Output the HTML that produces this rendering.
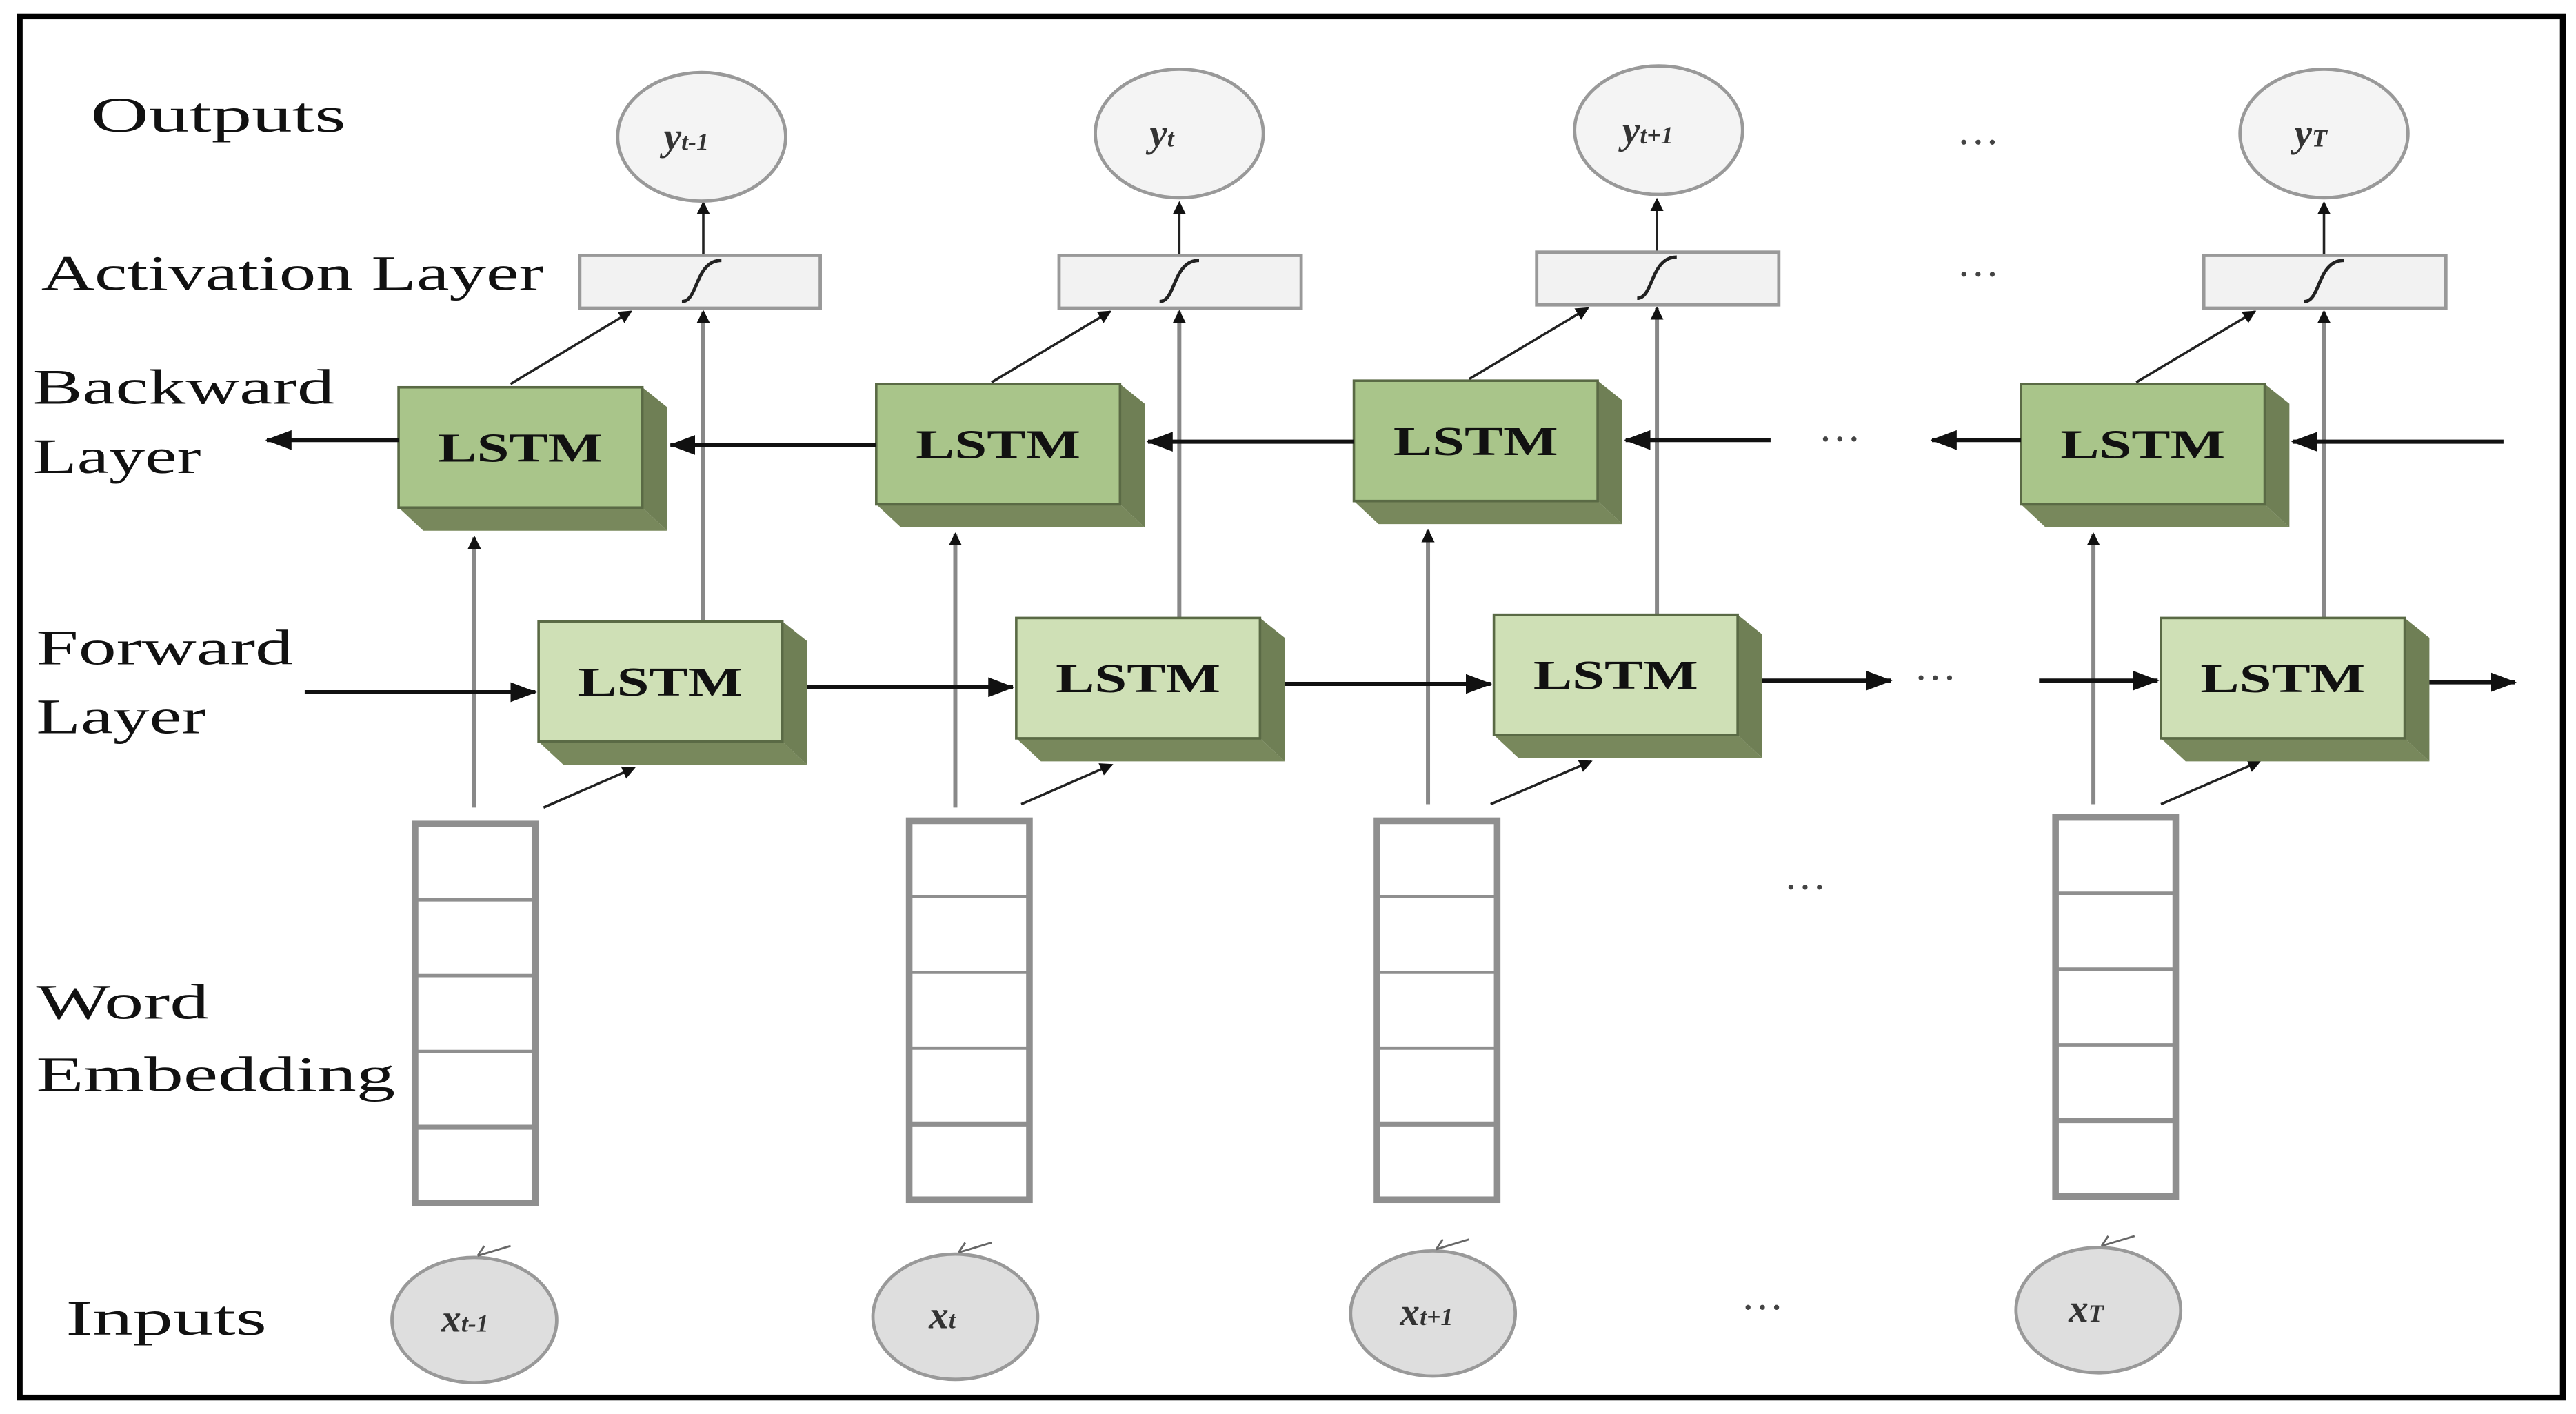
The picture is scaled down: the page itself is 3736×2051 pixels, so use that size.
<!DOCTYPE html>
<html><head><meta charset="utf-8"><style>
html,body{margin:0;padding:0;background:#fff;}
svg{display:block;}
.lbl{font-family:"Liberation Serif",serif;font-size:30px;fill:#111;}
.ls{font-family:"Liberation Serif",serif;font-size:25px;font-weight:bold;fill:#111;}
.it{font-family:"Liberation Serif",serif;font-style:italic;font-weight:bold;fill:#333;}
.dots{font-family:"Liberation Serif",serif;font-size:26px;fill:#444;}
</style></head><body>
<svg width="3736" height="2051" viewBox="0 0 1564 858" preserveAspectRatio="none" xmlns="http://www.w3.org/2000/svg">
<defs>
<marker id="ab" markerWidth="8" markerHeight="8" refX="7" refY="4" orient="auto" markerUnits="userSpaceOnUse" viewBox="0 0 8 8"><path d="M0,0 L8,4 L0,8z" fill="#111"/></marker>
<marker id="abig" markerWidth="16" markerHeight="12" refX="15" refY="6" orient="auto" markerUnits="userSpaceOnUse" viewBox="0 0 16 12"><path d="M0,0 L16,6 L0,12z" fill="#111"/></marker>
<g id="bw">
<polygon points="148,0 163,12 163,87 148,73" fill="#6f7f55"/>
<polygon points="0,73 148,73 163,87 15,87" fill="#78885c"/>
<rect x="0" y="0" width="148" height="73" fill="#a9c58a" stroke="#5a6a45" stroke-width="1.5"/>
<text x="24" y="45" class="ls" textLength="100" lengthAdjust="spacingAndGlyphs">LSTM</text>
</g>
<g id="fw">
<polygon points="148,0 163,12 163,87 148,73" fill="#6f7f55"/>
<polygon points="0,73 148,73 163,87 15,87" fill="#78885c"/>
<rect x="0" y="0" width="148" height="73" fill="#cfe0b6" stroke="#5a6a45" stroke-width="1.5"/>
<text x="24" y="45" class="ls" textLength="100" lengthAdjust="spacingAndGlyphs">LSTM</text>
</g>
<g id="emb" fill="none" stroke="#8f8f8f">
<rect x="0" y="0" width="73" height="230" stroke-width="4" fill="#fff"/>
<line x1="0" y1="46" x2="73" y2="46" stroke-width="2"/>
<line x1="0" y1="92" x2="73" y2="92" stroke-width="2"/>
<line x1="0" y1="138" x2="73" y2="138" stroke-width="2"/>
<line x1="0" y1="184" x2="73" y2="184" stroke-width="3"/>
</g>
</defs>
<rect x="12" y="10" width="1544" height="838" fill="#fff" stroke="#000" stroke-width="3.5"/>

<text x="55" y="80" class="lbl" textLength="155" lengthAdjust="spacingAndGlyphs">Outputs</text>
<text x="25" y="176" class="lbl" textLength="305" lengthAdjust="spacingAndGlyphs">Activation Layer</text>
<text x="20" y="245" class="lbl" textLength="183" lengthAdjust="spacingAndGlyphs">Backward</text>
<text x="20" y="287" class="lbl" textLength="102" lengthAdjust="spacingAndGlyphs">Layer</text>
<text x="22" y="403" class="lbl" textLength="156" lengthAdjust="spacingAndGlyphs">Forward</text>
<text x="22" y="445" class="lbl" textLength="103" lengthAdjust="spacingAndGlyphs">Layer</text>
<text x="22" y="618" class="lbl" textLength="105" lengthAdjust="spacingAndGlyphs">Word</text>
<text x="22" y="662" class="lbl" textLength="218" lengthAdjust="spacingAndGlyphs">Embedding</text>
<text x="40" y="810" class="lbl" textLength="122" lengthAdjust="spacingAndGlyphs">Inputs</text>

<g>
<g stroke="#888" stroke-width="2.5" fill="none">
<line x1="288" y1="490" x2="288" y2="326" marker-end="url(#ab)"/>
<line x1="427" y1="377" x2="427" y2="189" marker-end="url(#ab)"/>
<line x1="580" y1="490" x2="580" y2="324" marker-end="url(#ab)"/>
<line x1="716" y1="375" x2="716" y2="189" marker-end="url(#ab)"/>
<line x1="867" y1="488" x2="867" y2="322" marker-end="url(#ab)"/>
<line x1="1006" y1="373" x2="1006" y2="187" marker-end="url(#ab)"/>
<line x1="1271" y1="488" x2="1271" y2="324" marker-end="url(#ab)"/>
<line x1="1411" y1="375" x2="1411" y2="189" marker-end="url(#ab)"/>
</g>
<g stroke="#222" stroke-width="1.5" fill="none">
<line x1="310" y1="233" x2="383" y2="189" marker-end="url(#ab)"/>
<line x1="602" y1="232" x2="674" y2="189" marker-end="url(#ab)"/>
<line x1="892" y1="230" x2="964" y2="187" marker-end="url(#ab)"/>
<line x1="1297" y1="232" x2="1369" y2="189" marker-end="url(#ab)"/>
<line x1="330" y1="490" x2="385" y2="466" marker-end="url(#ab)"/>
<line x1="620" y1="488" x2="675" y2="464" marker-end="url(#ab)"/>
<line x1="905" y1="488" x2="966" y2="462" marker-end="url(#ab)"/>
<line x1="1312" y1="488" x2="1372" y2="462" marker-end="url(#ab)"/>
<line x1="427" y1="155" x2="427" y2="123" marker-end="url(#ab)"/>
<line x1="716" y1="155" x2="716" y2="123" marker-end="url(#ab)"/>
<line x1="1006" y1="153" x2="1006" y2="121" marker-end="url(#ab)"/>
<line x1="1411" y1="155" x2="1411" y2="123" marker-end="url(#ab)"/>
</g>

<g fill="#f2f2f2" stroke="#999" stroke-width="2">
<rect x="352" y="155" width="146" height="32"/>
<rect x="643" y="155" width="147" height="32"/>
<rect x="933" y="153" width="147" height="32"/>
<rect x="1338" y="155" width="147" height="32"/>
</g>
<g fill="none" stroke="#222" stroke-width="2">
<path d="M414,183 C424,183 422,158 438,158"/>
<path d="M704,183 C714,183 712,158 728,158"/>
<path d="M994,181 C1004,181 1002,156 1018,156"/>
<path d="M1399,183 C1409,183 1407,158 1423,158"/>
</g>

<g fill="#f4f4f4" stroke="#999" stroke-width="2">
<ellipse cx="426" cy="83" rx="51" ry="39"/>
<ellipse cx="716" cy="81" rx="51" ry="39"/>
<ellipse cx="1007" cy="79" rx="51" ry="39"/>
<ellipse cx="1411" cy="81" rx="51" ry="39"/>
</g>
<text x="403" y="91" class="it" font-size="24">y<tspan font-size="15">t-1</tspan></text>
<text x="698" y="89" class="it" font-size="24">y<tspan font-size="15">t</tspan></text>
<text x="985" y="87" class="it" font-size="24">y<tspan font-size="15">t+1</tspan></text>
<text x="1393" y="89" class="it" font-size="24">y<tspan font-size="15">T</tspan></text>

<use href="#bw" x="242" y="235"/>
<use href="#bw" x="532" y="233"/>
<use href="#bw" x="822" y="231"/>
<use href="#bw" x="1227" y="233"/>
<use href="#fw" x="327" y="377"/>
<use href="#fw" x="617" y="375"/>
<use href="#fw" x="907" y="373"/>
<use href="#fw" x="1312" y="375"/>

<g stroke="#111" stroke-width="2.5" fill="none">
<line x1="242" y1="267" x2="162" y2="267" marker-end="url(#abig)"/>
<line x1="532" y1="270" x2="407" y2="270" marker-end="url(#abig)"/>
<line x1="822" y1="268" x2="697" y2="268" marker-end="url(#abig)"/>
<line x1="1075" y1="267" x2="987" y2="267" marker-end="url(#abig)"/>
<line x1="1227" y1="267" x2="1173" y2="267" marker-end="url(#abig)"/>
<line x1="1520" y1="268" x2="1392" y2="268" marker-end="url(#abig)"/>
<line x1="185" y1="420" x2="325" y2="420" marker-end="url(#abig)"/>
<line x1="490" y1="417" x2="615" y2="417" marker-end="url(#abig)"/>
<line x1="780" y1="415" x2="905" y2="415" marker-end="url(#abig)"/>
<line x1="1070" y1="413" x2="1148" y2="413" marker-end="url(#abig)"/>
<line x1="1238" y1="413" x2="1310" y2="413" marker-end="url(#abig)"/>
<line x1="1475" y1="414" x2="1527" y2="414" marker-end="url(#abig)"/>
</g>

<use href="#emb" x="252" y="500"/>
<use href="#emb" x="552" y="498"/>
<use href="#emb" x="836" y="498"/>
<use href="#emb" x="1248" y="496"/>

<g fill="#dedede" stroke="#999" stroke-width="2">
<ellipse cx="288" cy="801" rx="50" ry="38"/>
<ellipse cx="580" cy="799" rx="50" ry="38"/>
<ellipse cx="870" cy="797" rx="50" ry="38"/>
<ellipse cx="1274" cy="795" rx="50" ry="38"/>
</g>
<g stroke="#666" stroke-width="1.2" fill="none">
<path d="M290,762 L294,756 M290,762 L310,756"/>
<path d="M582,760 L586,754 M582,760 L602,754"/>
<path d="M872,758 L876,752 M872,758 L892,752"/>
<path d="M1276,756 L1280,750 M1276,756 L1296,750"/>
</g>
<text x="268" y="808" class="it" font-size="24">x<tspan font-size="15">t-1</tspan></text>
<text x="564" y="806" class="it" font-size="24">x<tspan font-size="15">t</tspan></text>
<text x="850" y="804" class="it" font-size="24">x<tspan font-size="15">t+1</tspan></text>
<text x="1256" y="802" class="it" font-size="24">x<tspan font-size="15">T</tspan></text>

<text x="1188" y="95" class="dots">···</text>
<text x="1188" y="175" class="dots">···</text>
<text x="1104" y="275" class="dots">···</text>
<text x="1162" y="420" class="dots">···</text>
<text x="1083" y="547" class="dots">···</text>
<text x="1057" y="802" class="dots">···</text>
</g>
</svg>
</body></html>
